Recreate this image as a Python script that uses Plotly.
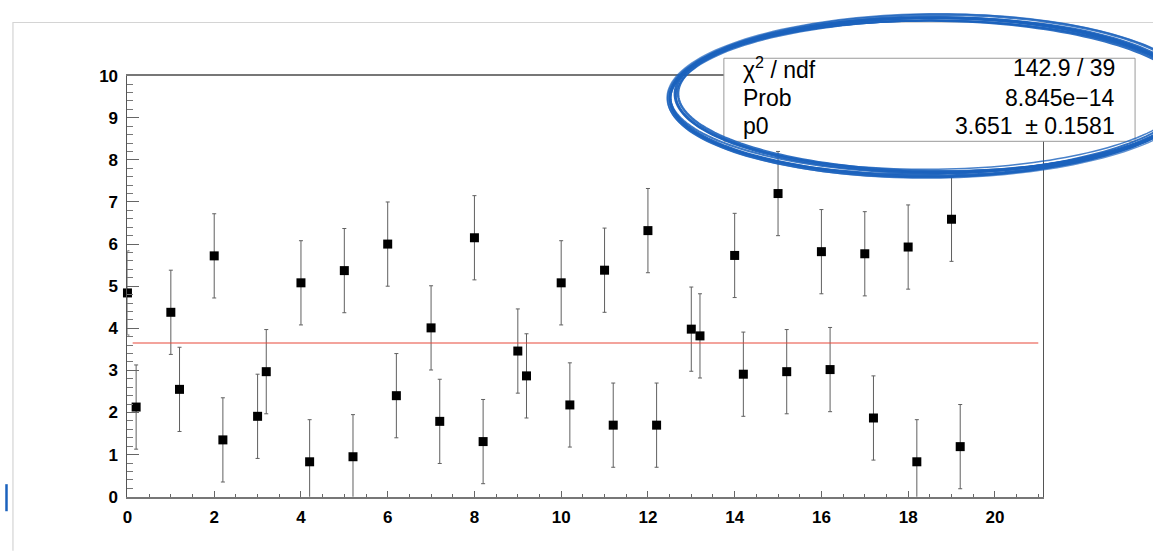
import numpy as np
import plotly.graph_objects as go

# Measurements: two interleaved sets of points (offset by 0.2 in x), each with unit errors
x_a = [0, 1, 2, 3, 4, 5, 6, 7, 8, 9, 10, 11, 12, 13, 14, 15, 16, 17, 18, 19]
y_a = [4.84, 4.38, 5.72, 1.91, 5.08, 5.37, 6.00, 4.01, 6.15, 3.46,
       5.08, 5.38, 6.32, 3.98, 5.73, 7.20, 5.82, 5.77, 5.93, 6.59]
x_b = [0.2, 1.2, 2.2, 3.2, 4.2, 5.2, 6.2, 7.2, 8.2, 9.2,
       10.2, 11.2, 12.2, 13.2, 14.2, 15.2, 16.2, 17.2, 18.2, 19.2]
y_b = [2.13, 2.55, 1.35, 2.97, 0.83, 0.95, 2.40, 1.79, 1.31, 2.87,
       2.18, 1.70, 1.70, 3.82, 2.91, 2.97, 3.02, 1.87, 0.83, 1.19]
err_a = [1.0] * len(x_a)
err_b = [1.0] * len(x_b)

# Constant fit (pol0) result
p0 = 3.651
p0_err = 0.1581
chi2 = 142.9
ndf = 39
prob = "8.845e\u221214"
fit_x = [0.12, 21.0]

x_ticks = [0, 2, 4, 6, 8, 10, 12, 14, 16, 18, 20]
y_ticks = [0, 1, 2, 3, 4, 5, 6, 7, 8, 9, 10]
x_range = [0, 21.12]
y_range = [0, 10]

W, H = 1153, 556


def px(x):
    return x / W


def py(y):
    return 1 - y / H


xs = x_a + x_b
ys = y_a + y_b
errs = err_a + err_b

fig = go.Figure()

# error bars (clipped to the frame)
fig.add_trace(go.Scatter(
    x=xs, y=ys, mode="markers",
    marker=dict(size=0.1, color="rgba(0,0,0,0)"),
    error_y=dict(type="data", array=errs, visible=True,
                 color="#606060", thickness=1, width=2),
    hoverinfo="skip", showlegend=False,
))

# fit line
fig.add_trace(go.Scatter(
    x=fit_x, y=[p0, p0], mode="lines",
    line=dict(color="#e8493a", width=1.2),
    showlegend=False, hoverinfo="skip",
))

# square markers
fig.add_trace(go.Scatter(
    x=xs, y=ys, mode="markers",
    marker=dict(symbol="square", size=9, color="black"),
    cliponaxis=False, showlegend=False, hoverinfo="skip",
))

tickfont = dict(family="Liberation Sans, Arial, sans-serif", size=17,
                color="black", weight="bold")

fig.update_layout(
    width=W, height=H,
    margin=dict(l=0, r=0, t=0, b=0),
    paper_bgcolor="white", plot_bgcolor="white",
    xaxis=dict(
        domain=[px(123), px(1043)], range=x_range,
        tickmode="array", tickvals=x_ticks, ticktext=[str(v) for v in x_ticks],
        ticks="inside", ticklen=6, tickwidth=1, tickcolor="#666",
        minor=dict(dtick=0.5, tick0=0, ticks="inside", ticklen=3,
                   tickcolor="#666", tickwidth=1, showgrid=False),
        showline=True, linecolor="#777", linewidth=1.5, mirror=True,
        showgrid=False, zeroline=False, tickfont=tickfont,
        ticklabelstandoff=4,
    ),
    yaxis=dict(
        domain=[py(505), py(69)], range=y_range,
        tickmode="array", tickvals=y_ticks, ticktext=[str(v) for v in y_ticks],
        ticks="inside", ticklen=12, tickwidth=1, tickcolor="#666",
        minor=dict(dtick=0.2, tick0=0, ticks="inside", ticklen=6,
                   tickcolor="#777", tickwidth=1, showgrid=False),
        showline=True, linecolor="#555", linewidth=1, mirror=True,
        showgrid=False, zeroline=False, tickfont=tickfont,
        ticklabelstandoff=5,
    ),
    font=dict(family="Liberation Sans, Arial, sans-serif"),
)

shapes = []

# faint canvas border
shapes.append(dict(type="path", xref="paper", yref="paper",
                   path=f"M {px(8)},{py(H + 5)} L {px(8)},{py(14)} L {px(W + 5)},{py(14)}",
                   line=dict(color="#d4d4d4", width=1.2), layer="below"))

# stats box
shapes.append(dict(type="rect", xref="paper", yref="paper",
                   x0=px(722), x1=px(1135), y0=py(137), y1=py(51),
                   fillcolor="white", line=dict(color="#9a9a9a", width=1),
                   layer="above"))


def ellipse_path(cx, cy, a, b, ang, n=180):
    t = np.linspace(0, 2 * np.pi, n)
    ex = a * np.cos(t)
    ey = b * np.sin(t)
    xr = cx + ex * np.cos(ang) - ey * np.sin(ang)
    yr = cy + ex * np.sin(ang) + ey * np.cos(ang)
    pts = [f"{px(xx):.5f},{py(yy):.5f}" for xx, yy in zip(xr, yr)]
    return "M " + " L ".join(pts) + " Z"


# hand-drawn highlight loops around the stats box
loops = [
    (931, 90, 265, 84, -0.012, 2.5, 0.85),
    (930, 91, 262, 82, -0.004, 3.0, 0.95),
    (932, 89, 259, 80, 0.004, 3.0, 0.95),
    (929, 90, 261, 81, -0.016, 2.0, 0.9),
    (933, 90, 257, 78, 0.010, 2.5, 0.9),
    (931, 91, 263, 79, 0.002, 2.0, 0.85),
    (930, 89, 256, 77, -0.006, 1.5, 0.8),
    (932, 90, 267, 85, -0.008, 1.5, 0.7),
]
for cx, cy, a, b, ang, w, op in loops:
    shapes.append(dict(type="path", xref="paper", yref="paper",
                       path=ellipse_path(cx, cy, a, b, ang),
                       line=dict(color="#1b62bd", width=w), opacity=op,
                       layer="above"))

# stray blue stroke at the lower-left edge
shapes.append(dict(type="line", xref="paper", yref="paper",
                   x0=px(1.5), x1=px(1.5), y0=py(520), y1=py(492),
                   line=dict(color="#1b62bd", width=2.5), layer="above"))

fig.update_layout(shapes=shapes)

stat_font = dict(family="Liberation Sans, Arial, sans-serif", size=23, color="black")
rows = [
    ("\u03c7<sup>2</sup> / ndf", f"{chi2:.1f} / {ndf}", 61),
    ("Prob", prob, 92),
    ("p0", f"{p0:.3f}&nbsp;&nbsp;\u00b1 {p0_err:.4f}", 121),
]
ann = []
for left, right, yy in rows:
    ann.append(dict(xref="paper", yref="paper", x=px(739), y=py(yy),
                    xanchor="left", yanchor="middle", text=left,
                    showarrow=False, font=stat_font))
    ann.append(dict(xref="paper", yref="paper", x=px(1117), y=py(yy),
                    xanchor="right", yanchor="middle", text=right,
                    showarrow=False, font=stat_font))
fig.update_layout(annotations=ann)

fig.write_html("out.html")
